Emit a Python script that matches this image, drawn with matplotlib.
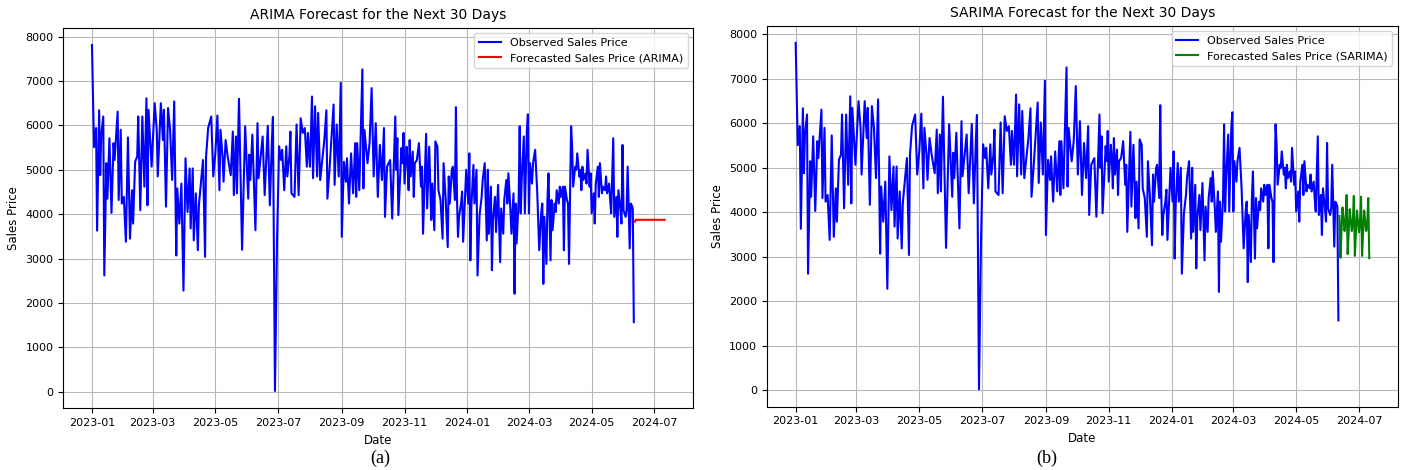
import numpy as np
import pandas as pd
import matplotlib as mpl
mpl.use('Agg')
from matplotlib import pyplot as plt
import matplotlib.dates as mdates

# observed sales price (days after 2023-01-01, value)
obs_days = [0, 2, 4, 5, 7, 8, 9, 11, 12, 14, 15, 17, 19, 21, 22, 25, 26, 28, 29, 31,
            33, 35, 37, 39, 40, 42, 44, 45, 47, 49, 51, 53, 54, 55, 58, 61, 63, 64, 67, 69,
            70, 72, 74, 76, 78, 80, 82, 83, 85, 87, 89, 91, 93, 95, 96, 98, 99, 101, 103, 104,
            108, 110, 111, 113, 116, 118, 120, 122, 124, 125, 127, 128, 130, 132, 135, 137, 138, 140, 141, 143,
            146, 149, 152, 153, 154, 156, 159, 161, 162, 166, 168, 171, 173, 175, 176, 178, 180, 182, 184, 185,
            187, 189, 190, 192, 193, 194, 197, 199, 201, 203, 205, 207, 209, 210, 212, 214, 215, 217, 219, 220,
            222, 226, 228, 229, 231, 235, 236, 238, 240, 242, 243, 245, 247, 248, 250, 252, 254, 256, 257, 258,
            260, 263, 264, 265, 268, 270, 272, 274, 276, 278, 280, 282, 284, 285, 287, 290, 292, 295, 296, 297,
            298, 301, 302, 303, 304, 306, 307, 308, 309, 310, 312, 313, 314, 316, 318, 320, 321, 322, 325, 326,
            328, 330, 331, 333, 334, 336, 337, 339, 341, 342, 344, 346, 347, 348, 350, 351, 353, 354, 355, 356,
            357, 359, 360, 361, 363, 364, 366, 367, 368, 369, 371, 372, 374, 375, 377, 379, 380, 382, 384, 385,
            386, 388, 389, 390, 392, 393, 395, 397, 398, 400, 401, 403, 404, 405, 407, 408, 410, 411, 412, 413,
            415, 416, 417, 418, 420, 421, 423, 424, 425, 426, 428, 429, 431, 433, 435, 437, 438, 439, 440, 442,
            443, 444, 446, 447, 448, 450, 451, 452, 454, 455, 456, 458, 459, 460, 462, 463, 464, 466, 467, 468,
            470, 471, 472, 474, 475, 476, 477, 478, 480, 481, 482, 484, 485, 486, 488, 489, 490, 492, 493, 494,
            496, 497, 499, 500, 501, 503, 504, 505, 507, 508, 510, 511, 512, 514, 515, 516, 517, 519, 520, 521,
            523, 524, 525, 526, 527]
obs_values = [7810, 5510, 5940, 3630, 6340, 4880, 5750, 6200, 2620, 5150, 4350, 5710, 4030, 5600, 5220, 6310, 4320, 5900, 4240, 4390,
              3380, 5730, 3450, 4540, 3790, 5180, 5300, 6200, 4090, 6200, 4620, 6610, 4200, 6350, 5070, 6500, 5900, 4850, 6500, 5670,
              6350, 4170, 6390, 5900, 4770, 6540, 3070, 4580, 3790, 4690, 2280, 5260, 4050, 5030, 3680, 5030, 3410, 4470, 3190, 4200,
              5220, 3040, 5300, 5940, 6200, 4850, 5370, 6220, 4540, 5900, 5300, 4730, 5670, 5300, 4880, 5860, 4430, 5750, 4470, 6600,
              3200, 5980, 4350, 5340, 4770, 5790, 3640, 6050, 4810, 5750, 4430, 5990, 4200, 5640, 6190, 20, 3410, 5530, 5220, 5450,
              4540, 5530, 4850, 5300, 5860, 4470, 4390, 6020, 4430, 6160, 5830, 5940, 5070, 5830, 5070, 6650, 4810, 6430, 4850, 6280,
              4770, 5670, 6340, 4350, 5000, 6470, 4660, 6020, 4850, 6960, 3490, 5180, 4730, 5260, 4240, 5370, 4470, 5600, 4390, 5600,
              4540, 7260, 4580, 5900, 5150, 5600, 6840, 4850, 6050, 4390, 5560, 4770, 5940, 3940, 5070, 5220, 3900, 6200, 5000, 5710,
              3980, 5490, 5150, 5830, 4690, 5520, 5180, 4540, 5670, 4850, 5410, 4390, 5150, 5220, 5600, 4620, 5070, 3560, 5810, 4130,
              5520, 3870, 4690, 3640, 5640, 5520, 4540, 4320, 3450, 5150, 4350, 3260, 4850, 4240, 5000, 5070, 4320, 6410, 4390, 3490,
              3940, 4240, 4510, 3380, 4470, 5000, 4240, 5370, 2960, 4170, 5110, 4240, 5000, 2620, 3980, 4390, 4770, 5150, 3410, 5000,
              3560, 4620, 2740, 3870, 4390, 3600, 4660, 2920, 4130, 3560, 4320, 4770, 4240, 4920, 4090, 3560, 4470, 2210, 4240, 3340,
              4320, 5980, 4020, 4770, 5750, 4020, 5900, 6250, 4020, 5150, 4690, 5150, 5450, 4540, 3190, 4050, 4240, 2430, 3940, 2880,
              4320, 4920, 2960, 4320, 3640, 4240, 4050, 4540, 4240, 4620, 4390, 4620, 3190, 4620, 4320, 4240, 2880, 5980, 5520, 4620,
              5070, 5000, 5370, 4850, 5000, 4540, 5070, 4770, 4920, 4690, 5450, 4620, 4920, 4020, 4470, 3790, 4690, 5070, 4390, 5150,
              4470, 4620, 4540, 4850, 4470, 4690, 4320, 4020, 5710, 3940, 4390, 3490, 4540, 4090, 3790, 5560, 4090, 3940, 4090, 5070,
              3230, 4240, 4200, 4130, 1570]

# 30 day forecasts
arima_forecast = [3830, 3880, 3870, 3875, 3873, 3874, 3874, 3874, 3874, 3874,
                  3874, 3874, 3874, 3874, 3874, 3874, 3874, 3874, 3874, 3874,
                  3874, 3874, 3874, 3874, 3874, 3874, 3874, 3874, 3874, 3874]
sarima_forecast = [3920, 2980, 3550, 4110, 3850, 3580, 3810,
                   4390, 3060, 3560, 4070, 3830, 3580, 3770,
                   4370, 3020, 3540, 4040, 3800, 3550, 3770,
                   4350, 3020, 3540, 4040, 3800, 3580, 3730,
                   4320, 2970]

start = pd.Timestamp('2023-01-01')
obs_dates = start + pd.to_timedelta(obs_days, unit='D')
fc_dates = pd.date_range(obs_dates[-1] + pd.Timedelta(days=1), periods=30, freq='D')

fig = plt.figure(figsize=(14.04, 4.70), dpi=100)
ax1 = fig.add_axes([0.0451, 0.1313, 0.4487, 0.8098])
ax2 = fig.add_axes([0.5463, 0.1349, 0.4494, 0.8106])

panels = [(ax1, arima_forecast, 'red', 'ARIMA'),
          (ax2, sarima_forecast, 'green', 'SARIMA')]

for ax, fc, col, name in panels:
    ax.plot(obs_dates, obs_values, color='blue', linewidth=1.5, label='Observed Sales Price')
    ax.plot(fc_dates, fc, color=col, linewidth=1.5, label='Forecasted Sales Price (%s)' % name)
    ax.set_title('%s Forecast for the Next 30 Days' % name, fontsize=10)
    ax.set_xlabel('Date', fontsize=8.5)
    ax.set_ylabel('Sales Price', fontsize=8.5)
    ax.xaxis.set_major_locator(mdates.MonthLocator(bymonth=[1, 3, 5, 7, 9, 11]))
    ax.xaxis.set_major_formatter(mdates.DateFormatter('%Y-%m'))
    ax.tick_params(labelsize=8)
    ax.grid(True, color='#b8b8b8')
    ax.legend(loc='upper right', fontsize=8)

fig.text(0.2707, 0.025, '(a)', family='Liberation Serif', fontsize=13, ha='center', va='center')
fig.text(0.7457, 0.025, '(b)', family='Liberation Serif', fontsize=13, ha='center', va='center')

plt.savefig('out.png', dpi=100)
plt.close('all')
